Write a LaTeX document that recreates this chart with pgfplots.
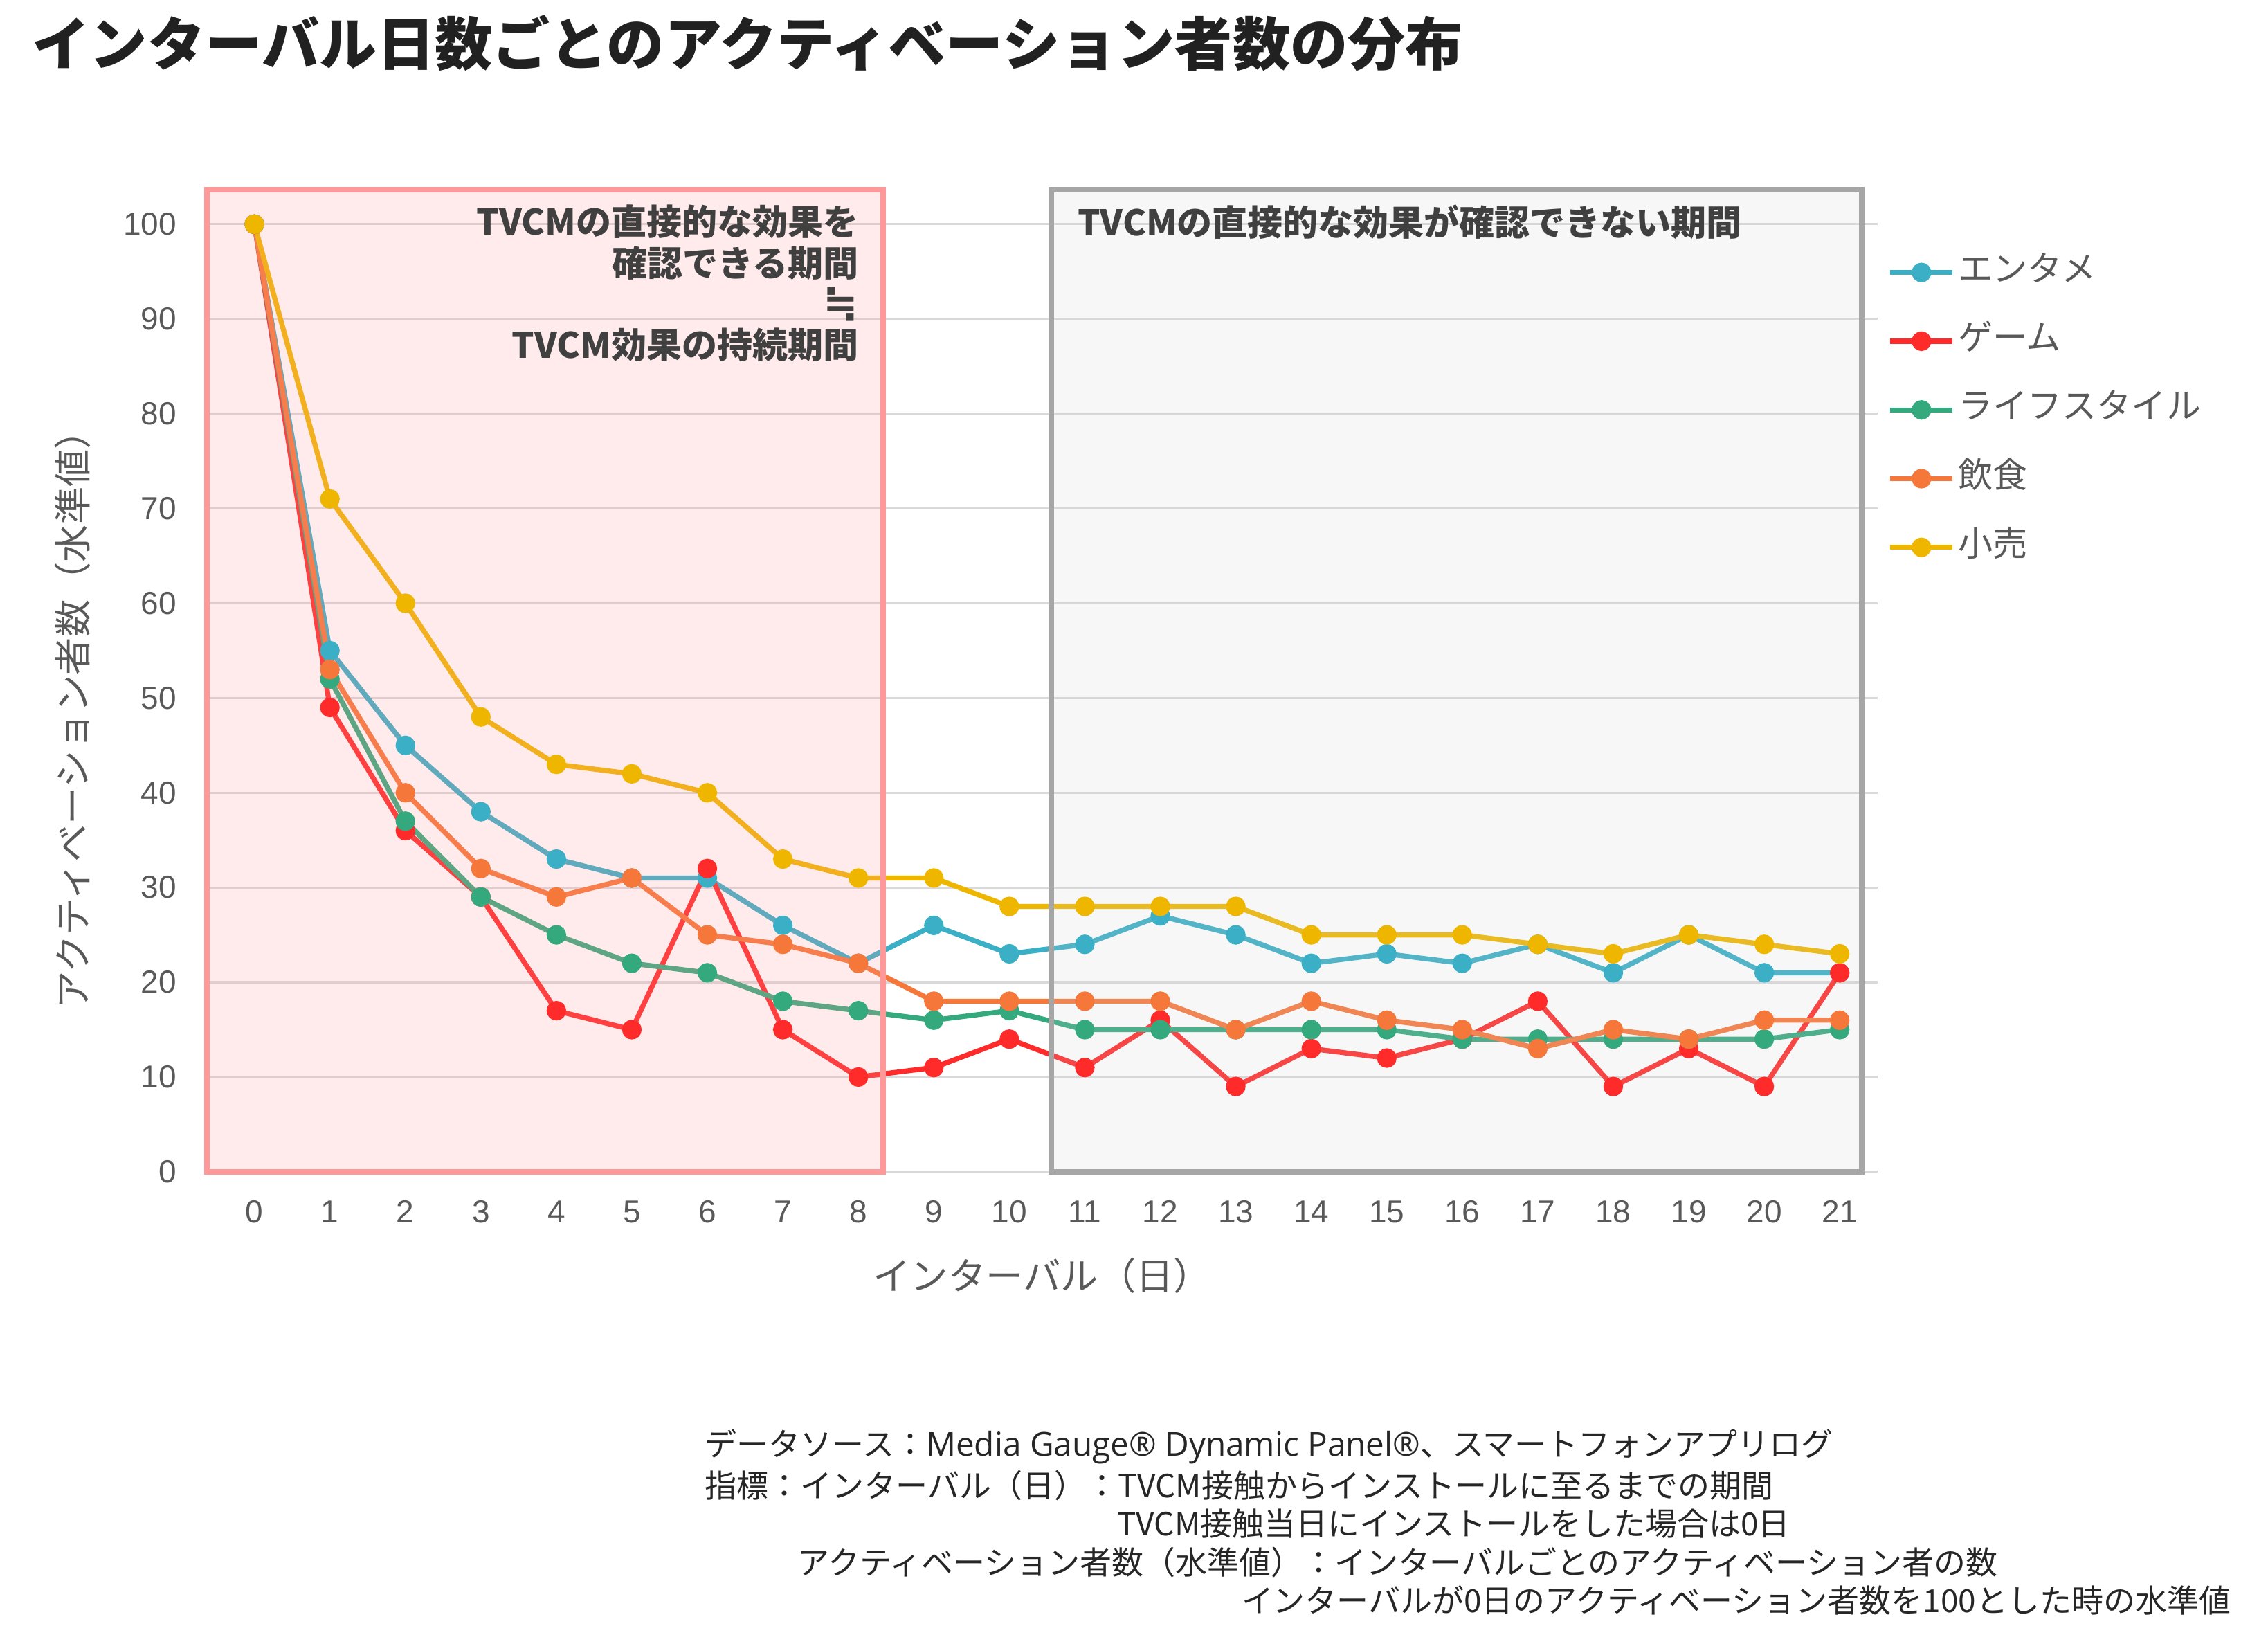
\documentclass[border=0pt]{standalone}
\usepackage{fontspec}
\usepackage{pgfplots}
\pgfplotsset{compat=1.18}
\setmainfont{Noto Sans CJK JP}
\newfontfamily\tickfont{Liberation Sans}
\newfontfamily\symfont{DejaVu Sans}
\newfontfamily\latinfont{Open Sans}

\definecolor{cEnt}{HTML}{3AAFC6}
\definecolor{cGame}{HTML}{FF2A2A}
\definecolor{cLife}{HTML}{35A97E}
\definecolor{cFood}{HTML}{F5773A}
\definecolor{cRetail}{HTML}{EFB600}
\definecolor{cPink}{HTML}{FF9999}
\definecolor{cGrayB}{HTML}{A6A6A6}
\definecolor{cGrayF}{HTML}{D2D2D2}
\definecolor{cGrid}{HTML}{D9D9D9}
\definecolor{cLabel}{HTML}{595959}
\definecolor{cNote}{HTML}{404040}

\begin{document}
\begin{tikzpicture}
\useasboundingbox (0,0) rectangle (784pt,568pt);

% title
\node[anchor=west, inner sep=0, text=black!87,
      font=\bfseries\fontsize{19.9}{22}\selectfont] at (11pt,553pt)
  {インターバル日数ごとのアクティベーション者数の分布};

\begin{axis}[
  at={(71.5pt,163pt)}, anchor=south west,
  width=577.5pt, height=339.5pt, scale only axis,
  xmin=-0.63, xmax=21.5, ymin=0, ymax=103.66,
  xtick={0,...,21}, ytick={0,10,...,100},
  axis line style={draw=none}, tick style={draw=none},
  major tick length=0pt,
  ymajorgrids, grid style={color=cGrid, line width=0.75pt},
  xticklabel={\tickfont\fontsize{11}{13}\selectfont\pgfmathprintnumber[assume math mode=true]{\tick}},
  yticklabel={\tickfont\fontsize{11}{13}\selectfont\pgfmathprintnumber[assume math mode=true]{\tick}},
  ticklabel style={text=cLabel},
  yticklabel style={xshift=-7pt},
  xticklabel style={yshift=-6.5pt},
  xlabel={インターバル（日）},
  ylabel={アクティベーション者数（水準値）},
  label style={font=\fontsize{13}{15}\selectfont, text=cLabel},
  xlabel style={at={(axis description cs:0.5,0)}, anchor=center, yshift=-36pt},
  ylabel style={at={(axis description cs:0,0.47)}, anchor=center, yshift=46.5pt},
  clip=false,
  every axis plot/.append style={line width=1.75pt, mark=*, mark size=2.5pt, mark options={solid}},
  legend image code/.code={\draw[mark repeat=2, mark phase=2, #1]
      plot coordinates {(0pt,0pt) (10.75pt,0pt) (21.5pt,0pt)};},
  legend cell align=left,
  legend style={at={(axis cs:21.63,97.1)}, anchor=north west, draw=none, fill=none,
      inner sep=0pt, row sep=9.75pt,
      font=\fontsize{12}{14}\selectfont, text=cLabel,
      nodes={inner sep=1pt, text height=9pt, text depth=3pt}},
]

\addplot[color=cEnt] coordinates {
 (0,100) (1,55) (2,45) (3,38) (4,33) (5,31) (6,31) (7,26) (8,22) (9,26) (10,23)
 (11,24) (12,27) (13,25) (14,22) (15,23) (16,22) (17,24) (18,21) (19,25) (20,21) (21,21)};
\addlegendentry{エンタメ}

\addplot[color=cGame] coordinates {
 (0,100) (1,49) (2,36) (3,29) (4,17) (5,15) (6,32) (7,15) (8,10) (9,11) (10,14)
 (11,11) (12,16) (13,9) (14,13) (15,12) (16,14) (17,18) (18,9) (19,13) (20,9) (21,21)};
\addlegendentry{ゲーム}

\addplot[color=cLife] coordinates {
 (0,100) (1,52) (2,37) (3,29) (4,25) (5,22) (6,21) (7,18) (8,17) (9,16) (10,17)
 (11,15) (12,15) (13,15) (14,15) (15,15) (16,14) (17,14) (18,14) (19,14) (20,14) (21,15)};
\addlegendentry{ライフスタイル}

\addplot[color=cFood] coordinates {
 (0,100) (1,53) (2,40) (3,32) (4,29) (5,31) (6,25) (7,24) (8,22) (9,18) (10,18)
 (11,18) (12,18) (13,15) (14,18) (15,16) (16,15) (17,13) (18,15) (19,14) (20,16) (21,16)};
\addlegendentry{飲食}

\addplot[color=cRetail] coordinates {
 (0,100) (1,71) (2,60) (3,48) (4,43) (5,42) (6,40) (7,33) (8,31) (9,31) (10,28)
 (11,28) (12,28) (13,28) (14,25) (15,25) (16,25) (17,24) (18,23) (19,25) (20,24) (21,23)};
\addlegendentry{小売}

% highlighted periods
\draw[draw=cPink, line width=1.9pt, fill=cPink, fill opacity=0.2]
  (axis cs:-0.63,0) rectangle (axis cs:8.33,103.66);
\draw[draw=cGrayB, line width=1.9pt, fill=cGrayF, fill opacity=0.17]
  (axis cs:10.56,0) rectangle (axis cs:21.29,103.66);

\node[anchor=north east, align=right, inner sep=0, text=cNote,
      font=\bfseries\fontsize{12.2}{14.2}\selectfont] at (axis cs:8.01,102.1)
  {TVCMの直接的な効果を\\確認できる期間\\{\symfont\bfseries\fontsize{14.5}{14.2}\selectfont ≒}\\TVCM効果の持続期間};
\node[anchor=north west, inner sep=0, text=cNote,
      font=\bfseries\fontsize{12.2}{14.2}\selectfont] at (axis cs:10.90,102.1)
  {TVCMの直接的な効果が確認できない期間};
\end{axis}

% notes
\begin{scope}[every node/.style={anchor=west, inner sep=0, text=black!85,
      font=\fontsize{11}{13}\selectfont}]
\node at (243.5pt,68pt) {データソース：{\latinfont\fontsize{11.4}{13}\selectfont Media Gauge® Dynamic Panel®}、スマートフォンアプリログ};
\node at (243.5pt,54.5pt) {指標：インターバル（日）：TVCM接触からインストールに至るまでの期間};
\node at (386pt,41.5pt) {TVCM接触当日にインストールをした場合は0日};
\node at (275.5pt,28pt) {アクティベーション者数（水準値）：インターバルごとのアクティベーション者の数};
\node at (429pt,15pt) {インターバルが0日のアクティベーション者数を100とした時の水準値};
\end{scope}
\end{tikzpicture}
\end{document}
